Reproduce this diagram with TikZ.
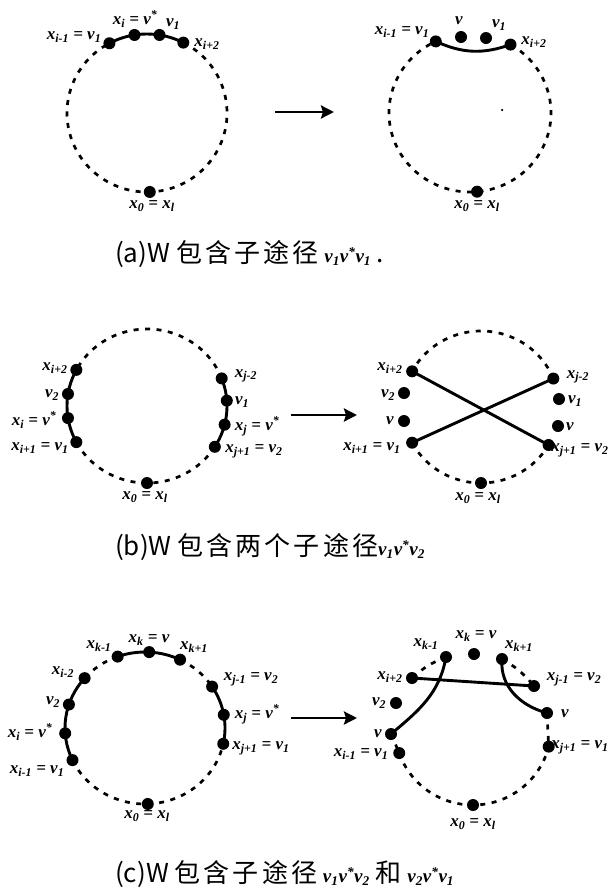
\documentclass[tikz,border=0pt]{standalone}
\usepackage{fontspec}
\newfontfamily\cjk{Noto Sans CJK SC}
\newfontfamily\cjks[LetterSpace=12]{Noto Sans CJK SC}
\newfontfamily\tms{Liberation Serif}
\usetikzlibrary{arrows.meta}
\tikzset{
  dot/.style={circle,fill=black,inner sep=0pt,minimum size=12pt},
  tinydot/.style={circle,fill=black,inner sep=0pt,minimum size=2.5pt},
  dotc/.style={line width=2.7pt,dash pattern=on 5pt off 6.5pt},
  solidln/.style={line width=2.9pt},
  lab/.style={font=\tms\bfseries\itshape\fontsize{17}{17}\selectfont,inner sep=0pt},
  captxt/.style={font=\cjk\fontsize{26}{26}\selectfont,anchor=west,inner sep=0pt},
  bigarrow/.style={line width=2.9pt,-{Stealth[length=13pt,width=13pt,inset=2pt]}},
}
\newcommand{\sub}[1]{\textsubscript{#1}}
\newcommand{\sps}{\textsuperscript{*}}
\newcommand{\capv}[1]{{\tms\bfseries\itshape\fontsize{19}{19}\selectfont #1}}
\newcommand{\hz}[1]{{\cjks #1}}
\begin{document}
\begin{tikzpicture}[x=1pt,y=1pt]
\useasboundingbox (0,0) rectangle (610,-892);

%% ---------------- (a) left
\begin{scope}[shift={(147,-113)}]
  \node[dot] (a1) at (118:80pt and 79pt) {};
  \node[dot] (a2) at (99:80pt and 79pt) {};
  \node[dot] (a3) at (81:80pt and 79pt) {};
  \node[dot] (a4) at (63:80pt and 79pt) {};
  \node[dot] (a0) at (272:80pt and 79pt) {};
  \draw[dotc] (a4.center) arc[start angle=63,end angle=-242,x radius=80pt,y radius=79pt];
  \draw[solidln] (a1.center) arc[start angle=118,end angle=63,x radius=80pt,y radius=79pt];
\end{scope}
\node[lab] (la1) at (74,-37) {x\sub{i-1} = v\sub{1}};
\node[lab] (la2) at (135,-19) {x\sub{i} = v\sps};
\node[lab] (la3) at (173,-24) {v\sub{1}};
\node[lab] (la4) at (207,-44) {x\sub{i+2}};
\node[lab] (la0) at (152,-206) {x\sub{0} = x\sub{l}};

%% arrow (a)
\coordinate (arA1) at (275,-112);
\coordinate (arA2) at (334,-112);
\draw[bigarrow] (arA1) -- (arA2);

%% ---------------- (a) right
\begin{scope}[shift={(470,-113)}]
  \node[dot] (b1) at (115:81pt and 79pt) {};
  \node[dot] (b4) at (60:81pt and 79pt) {};
  \node[dot] (b0) at (275:81pt and 79pt) {};
  \draw[dotc] (b4.center) arc[start angle=60,end angle=-245,x radius=81pt,y radius=79pt];
\end{scope}
\node[dot] (bv) at (461,-37) {};
\node[dot] (bw) at (486,-38) {};
\node[tinydot] (stray) at (502,-110) {};
\draw[solidln] (b1.center) to[bend right=22] (b4.center);
\node[lab] (lb1) at (402,-32) {x\sub{i-1} = v\sub{1}};
\node[lab] (lbv) at (459,-21) {v};
\node[lab] (lbw) at (499,-25) {v\sub{1}};
\node[lab] (lb4) at (534,-42) {x\sub{i+2}};
\node[lab] (lb0) at (477,-206) {x\sub{0} = x\sub{l}};

%% caption (a)
\node[captxt] (capa) at (115,-254) {(a)W \hz{包含子途径} \capv{v\sub{1}v\sps v\sub{1}} .};

%% ---------------- (b) left
\begin{scope}[shift={(147,-406)}]
  \node[dot] (c1) at (152:80pt and 77pt) {};
  \node[dot] (c2) at (171:80pt and 77pt) {};
  \node[dot] (c3) at (189:80pt and 77pt) {};
  \node[dot] (c4) at (208:80pt and 77pt) {};
  \node[dot] (d1) at (21:80pt and 77pt) {};
  \node[dot] (d2) at (4:80pt and 77pt) {};
  \node[dot] (d3) at (-14:80pt and 77pt) {};
  \node[dot] (d4) at (-32:80pt and 77pt) {};
  \node[dot] (c0) at (270:80pt and 77pt) {};
  \draw[dotc] (d1.center) arc[start angle=21,end angle=152,x radius=80pt,y radius=77pt];
  \draw[dotc] (c4.center) arc[start angle=208,end angle=328,x radius=80pt,y radius=77pt];
  \draw[solidln] (c1.center) arc[start angle=152,end angle=208,x radius=80pt,y radius=77pt];
  \draw[solidln] (d1.center) arc[start angle=21,end angle=-32,x radius=80pt,y radius=77pt];
\end{scope}
\node[lab] (lc1) at (55,-368) {x\sub{i+2}};
\node[lab] (lc2) at (52,-395) {v\sub{2}};
\node[lab] (lc3) at (34,-420) {x\sub{i} = v\sps};
\node[lab] (lc4) at (40,-448) {x\sub{i+1} = v\sub{1}};
\node[lab] (ld1) at (246,-376) {x\sub{j-2}};
\node[lab] (ld2) at (242,-402) {v\sub{1}};
\node[lab] (ld3) at (257,-426) {x\sub{j} = v\sps};
\node[lab] (ld4) at (254,-451) {x\sub{j+1} = v\sub{2}};
\node[lab] (lc0) at (145,-497) {x\sub{0} = x\sub{l}};

%% arrow (b)
\coordinate (arB1) at (291,-415);
\coordinate (arB2) at (357,-415);
\draw[bigarrow] (arB1) -- (arB2);

%% ---------------- (b) right
\begin{scope}[shift={(481,-407)}]
  \node[dot] (e1) at (152:78pt and 76pt) {};
  \node[dot] (e4) at (208:78pt and 76pt) {};
  \node[dot] (f1) at (22:78pt and 76pt) {};
  \node[dot] (f4) at (-30:78pt and 76pt) {};
  \node[dot] (e0) at (270:78pt and 76pt) {};
  \draw[dotc] (f1.center) arc[start angle=22,end angle=152,x radius=78pt,y radius=76pt];
  \draw[dotc] (e4.center) arc[start angle=208,end angle=330,x radius=78pt,y radius=76pt];
\end{scope}
\node[dot] (e2) at (404,-393) {};
\node[dot] (e3) at (404,-421) {};
\node[dot] (f2) at (559,-399) {};
\node[dot] (f3) at (558,-426) {};
\draw[solidln] (e1.center) -- (f4.center);
\draw[solidln] (e4.center) -- (f1.center);
\node[lab] (le1) at (390,-368) {x\sub{i+2}};
\node[lab] (le2) at (388,-395) {v\sub{2}};
\node[lab] (le3) at (390,-421) {v};
\node[lab] (le4) at (372,-448) {x\sub{i+1} = v\sub{1}};
\node[lab] (lf1) at (578,-377) {x\sub{j-2}};
\node[lab] (lf2) at (575,-401) {v\sub{1}};
\node[lab] (lf3) at (570,-427) {v};
\node[lab] (lf4) at (580,-450) {x\sub{j+1} = v\sub{2}};
\node[lab] (le0) at (478,-498) {x\sub{0} = x\sub{l}};

%% caption (b)
\node[captxt] (capb) at (115,-547) {(b)W \hz{包含两个子途径}\capv{v\sub{1}v\sps v\sub{2}}};

%% ---------------- (c) left
\begin{scope}[shift={(145,-728)}]
  \node[dot] (g1) at (110:80pt and 76pt) {};
  \node[dot] (g2) at (87:80pt and 76pt) {};
  \node[dot] (g3) at (64:80pt and 76pt) {};
  \node[dot] (g4) at (139:80pt and 76pt) {};
  \node[dot] (g5) at (162:80pt and 76pt) {};
  \node[dot] (g6) at (184:80pt and 76pt) {};
  \node[dot] (g7) at (205:80pt and 76pt) {};
  \node[dot] (h1) at (33:80pt and 76pt) {};
  \node[dot] (h2) at (10:80pt and 76pt) {};
  \node[dot] (h3) at (-12:80pt and 76pt) {};
  \node[dot] (g0) at (272:80pt and 76pt) {};
  \draw[solidln] (g1.center) arc[start angle=110,end angle=64,x radius=80pt,y radius=76pt];
  \draw[solidln] (g4.center) arc[start angle=139,end angle=205,x radius=80pt,y radius=76pt];
  \draw[solidln] (h1.center) arc[start angle=33,end angle=-12,x radius=80pt,y radius=76pt];
  \draw[dotc] (g3.center) arc[start angle=64,end angle=33,x radius=80pt,y radius=76pt];
  \draw[dotc] (g1.center) arc[start angle=110,end angle=139,x radius=80pt,y radius=76pt];
  \draw[dotc] (g7.center) arc[start angle=205,end angle=348,x radius=80pt,y radius=76pt];
\end{scope}
\node[lab] (lg1) at (99,-646) {x\sub{k-1}};
\node[lab] (lg2) at (149,-640) {x\sub{k} = v};
\node[lab] (lg3) at (194,-647) {x\sub{k+1}};
\node[lab] (lg4) at (63,-672) {x\sub{i-2}};
\node[lab] (lg5) at (53,-702) {v\sub{2}};
\node[lab] (lg6) at (30,-732) {x\sub{i} = v\sps};
\node[lab] (lg7) at (37,-771) {x\sub{i-1} = v\sub{1}};
\node[lab] (lh1) at (251,-679) {x\sub{j-1} = v\sub{2}};
\node[lab] (lh2) at (257,-714) {x\sub{j} = v\sps};
\node[lab] (lh3) at (261,-748) {x\sub{j+1} = v\sub{1}};
\node[lab] (lg0) at (147,-816) {x\sub{0} = x\sub{l}};

%% arrow (c)
\coordinate (arC1) at (291,-718);
\coordinate (arC2) at (357,-718);
\draw[bigarrow] (arC1) -- (arC2);

%% ---------------- (c) right
\begin{scope}[shift={(473,-728)}]
  \node[dot] (k8) at (199:78pt and 77pt) {};
  \node[dot] (k10) at (-14:78pt and 77pt) {};
  \node[dot] (k0) at (270:78pt and 77pt) {};
  \draw[dotc] (k8.center) arc[start angle=199,end angle=346,x radius=78pt,y radius=77pt];
\end{scope}
\node[dot] (k1) at (446,-657) {};
\node[dot] (k2) at (474,-654) {};
\node[dot] (k3) at (502,-659) {};
\node[dot] (k4) at (412,-678) {};
\node[dot] (k5) at (534,-686) {};
\node[dot] (k6) at (396,-703) {};
\node[dot] (k7) at (391,-734) {};
\node[dot] (k9) at (547,-713) {};
\draw[dotc] (k1.center) to[bend right=10] (k4.center);
\draw[dotc] (k3.center) to[bend left=10] (k5.center);
\draw[dotc] (k7.center) -- (k8.center);
\draw[dotc] (k9.center) -- (k10.center);
\draw[solidln] (k4.center) -- (k5.center);
\draw[solidln] (k1.center) to[out=-100,in=40] (k7.center);
\draw[solidln] (k3.center) to[out=-95,in=165] (k9.center);
\node[lab] (lk1) at (426,-644) {x\sub{k-1}};
\node[lab] (lk2) at (476,-636) {x\sub{k} = v};
\node[lab] (lk3) at (519,-646) {x\sub{k+1}};
\node[lab] (lk4) at (390,-677) {x\sub{i+2}};
\node[lab] (lk5) at (574,-679) {x\sub{j-1} = v\sub{2}};
\node[lab] (lk6) at (379,-703) {v\sub{2}};
\node[lab] (lk7) at (378,-734) {v};
\node[lab] (lk8) at (361,-754) {x\sub{i-1} = v\sub{1}};
\node[lab] (lk9) at (565,-714) {v};
\node[lab] (lk10) at (580,-747) {x\sub{j+1} = v\sub{1}};
\node[lab] (lk0) at (473,-824) {x\sub{0} = x\sub{l}};

%% caption (c)
\node[captxt] (capc) at (115,-874) {(c)W \hz{包含子途径} \capv{v\sub{1}v\sps v\sub{2}} \hz{和} \capv{v\sub{2}v\sps v\sub{1}}};
\end{tikzpicture}
\end{document}
